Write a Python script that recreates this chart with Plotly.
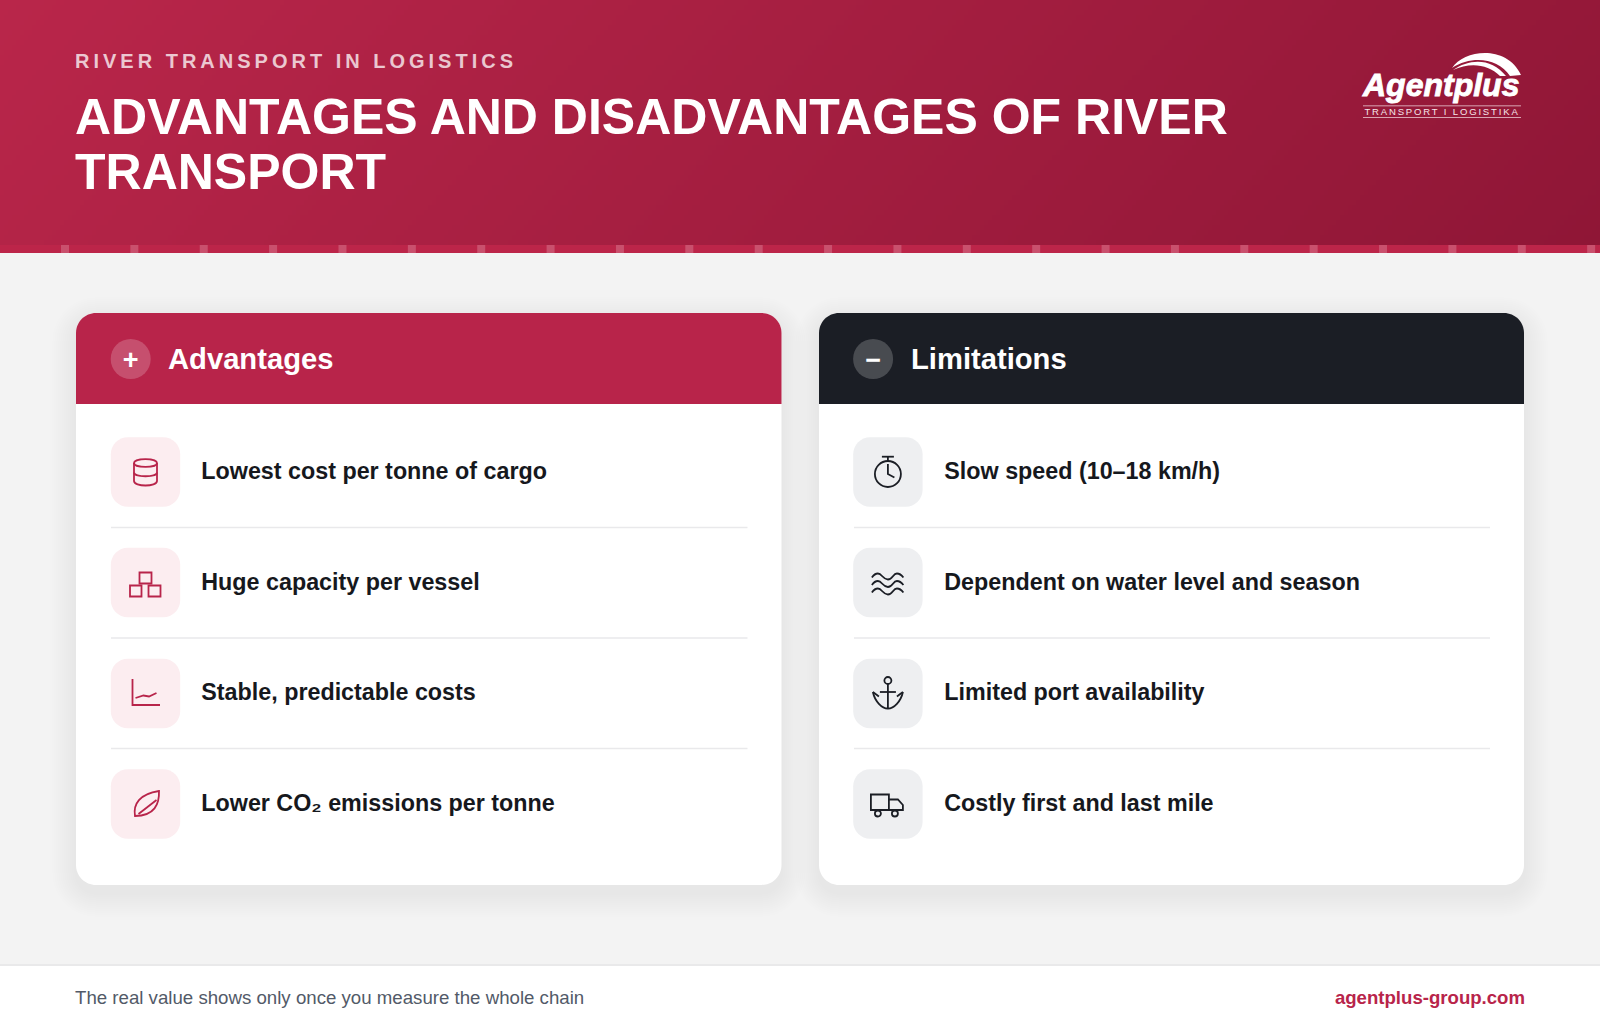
import re
import numpy as np
import plotly.graph_objects as go

W, H = 1600, 1035
FONT = "Liberation Sans"

RED = "#B8244A"
DARK = "#1B1E25"
PAGE = "#F3F3F3"

KICKER = "RIVER TRANSPORT IN LOGISTICS"
TITLE_LINES = ["ADVANTAGES AND DISADVANTAGES OF RIVER", "TRANSPORT"]
LOGO_NAME = "Agentplus"
LOGO_SUB = "TRANSPORT I LOGISTIKA"

PANEL_TITLES = ["Advantages", "Limitations"]
PANEL_SIGNS = ["+", "−"]
ADVANTAGES = [
    "Lowest cost per tonne of cargo",
    "Huge capacity per vessel",
    "Stable, predictable costs",
    "Lower CO₂ emissions per tonne",
]
LIMITATIONS = [
    "Slow speed (10–18 km/h)",
    "Dependent on water level and season",
    "Limited port availability",
    "Costly first and last mile",
]
FOOT_LEFT = "The real value shows only once you measure the whole chain"
FOOT_RIGHT = "agentplus-group.com"

# icon outlines, local px around the middle of the icon box
ICONS_LEFT = [
    ["M-11.5,-9 C-11.5,-14.3 11.5,-14.3 11.5,-9 C11.5,-3.7 -11.5,-3.7 -11.5,-9 Z",
     "M-11.5,-9 L-11.5,9 C-11.5,15 11.5,15 11.5,9 L11.5,-9",
     "M-11.5,0.5 C-11.5,5.5 11.5,5.5 11.5,0.5"],
    ["M-6,-10 L6,-10 L6,1 L-6,1 Z",
     "M-15.5,3 L-4,3 L-4,14 L-15.5,14 Z",
     "M3,3 L15,3 L15,14 L3,14 Z"],
    ["M-13,-14.5 L-13,11.5 L14.5,11.5",
     "M-10,4.5 L-2,2 L3.5,3 L11,-0.5"],
    ["M-10.5,12 C-12.5,0 -6,-10 13.5,-13 C14,0 9,12 -10.5,12 Z",
     "M-7,10 L11,-4"],
]
ICONS_RIGHT = [
    ["M0,-11 C7.2,-11 13,-5.2 13,2 C13,9.2 7.2,15 0,15 C-7.2,15 -13,9.2 -13,2 C-13,-5.2 -7.2,-11 0,-11 Z",
     "M-6,-15.3 L6,-15.3", "M0,-15.3 L0,-11",
     "M0,-8 L0,2 L6.5,5.5"],
    ["M-16,-5 C-14,-8 -12,-9 -10,-9 C-6,-9 -5,-3 0,-3 C5,-3 5,-9 9,-9 C12,-9 14,-7 15.5,-5",
     "M-16,2.5 C-14,-0.5 -12,-1.5 -10,-1.5 C-6,-1.5 -5,4.5 0,4.5 C5,4.5 5,-1.5 9,-1.5 C12,-1.5 14,0.5 15.5,2.5",
     "M-16,10 C-14,7 -12,6 -10,6 C-6,6 -5,12 0,12 C5,12 5,6 9,6 C12,6 14,8 15.5,10"],
    ["M0,-16.5 C1.9,-16.5 3.5,-14.9 3.5,-13 C3.5,-11.1 1.9,-9.5 0,-9.5 C-1.9,-9.5 -3.5,-11.1 -3.5,-13 C-3.5,-14.9 -1.9,-16.5 0,-16.5 Z",
     "M0,-9.5 L0,15", "M-8,-1.5 L8,-1.5",
     "M-15,-1.5 C-13,8 -6,15 0,15 C6,15 13,8 15,-1.5",
     "M-15,-1.5 L-9,3", "M15,-1.5 L9,3"],
    ["M-17,-9.5 L1,-9.5 L1,6 L-17,6 Z",
     "M1,-4.5 L10,-4.5 L15,1 L15,6 L1,6"],
]
TRUCK_WHEELS = [(-10, 9.5), (7, 9.5)]


def place(path, cx, cy):
    # move a local path to page pixels, numbers come as x,y pairs
    parts = re.split(r"(-?\d+\.?\d*)", path)
    out, is_x = [], True
    for p in parts:
        if re.fullmatch(r"-?\d+\.?\d*", p):
            out.append(f"{float(p) + (cx if is_x else cy):.2f}")
            is_x = not is_x
        else:
            out.append(p)
    return "".join(out)


def rounded(x0, y0, x1, y1, r, bottom=True):
    k = r * 0.448
    p = f"M{x0},{y0 + r} C{x0},{y0 + k} {x0 + k},{y0} {x0 + r},{y0} L{x1 - r},{y0} C{x1 - k},{y0} {x1},{y0 + k} {x1},{y0 + r} "
    if bottom:
        p += f"L{x1},{y1 - r} C{x1},{y1 - k} {x1 - k},{y1} {x1 - r},{y1} L{x0 + r},{y1} C{x0 + k},{y1} {x0},{y1 - k} {x0},{y1 - r} Z"
    else:
        p += f"L{x1},{y1} L{x0},{y1} Z"
    return p


fig = go.Figure()


def add_shape_path(path, fill=None, line=None, lw=0, opacity=1, layer="below"):
    fig.add_shape(type="path", path=path, xref="x", yref="y", layer=layer, opacity=opacity,
                  fillcolor=fill if fill else "rgba(0,0,0,0)",
                  line=dict(color=line if line else "rgba(0,0,0,0)", width=lw))


def add_rect(x0, y0, x1, y1, fill, opacity=1, layer="below"):
    fig.add_shape(type="rect", x0=x0, y0=y0, x1=x1, y1=y1, xref="x", yref="y", layer=layer,
                  fillcolor=fill, opacity=opacity, line_width=0)


def add_text(x, y, text, size, color, bold=False, italic=False, side="middle right"):
    fig.add_trace(go.Scatter(
        x=[x], y=[y], text=[text], mode="text", textposition=side, hoverinfo="skip", showlegend=False,
        textfont=dict(family=FONT, size=size, color=color, weight=700 if bold else 400,
                      style="italic" if italic else "normal"),
    ))


# header gradient, 135deg like the css one
hx = np.arange(0, W + 4, 4)
hy = np.arange(0, 245 + 5, 5)
cx = (hx[:-1] + hx[1:]) / 2
cy = (hy[:-1] + hy[1:]) / 2
fig.add_trace(go.Heatmap(
    x=hx, y=hy, z=(cx[None, :] + cy[:, None]) / (W + 245),
    colorscale=[[0, "#B9264A"], [1, "#8F1636"]], zmin=0, zmax=1,
    showscale=False, hoverinfo="skip",
))

add_rect(0, 245, W, 253, "#BC2549")
for i in range(23):
    add_rect(61 + i * 69.37, 245, 69 + i * 69.37, 253, "#FFFFFF", 0.2)

# footer
add_rect(0, 965, W, H, "#FFFFFF")
add_rect(0, 964, W, 966, "#E9E9EA")

# panels
PANELS = [
    dict(x0=76, x1=781.5, shift=0, head=RED, badge="rgba(255,255,255,0.2)", box="#FCEDF0", ink=RED,
         rows=ADVANTAGES, icons=ICONS_LEFT),
    dict(x0=819, x1=1524, shift=-0.6, head=DARK, badge="rgba(255,255,255,0.2)", box="#EEEFF1", ink=DARK,
         rows=LIMITATIONS, icons=ICONS_RIGHT),
]
TOP, BOTTOM, HEAD_BOTTOM = 313, 885, 404
ROW_Y = [472, 582.5, 693.5, 804]
ROW_TEXT_Y = [473, 584.5, 694.5, 805]
SEP_Y = [527.5, 638, 748.5]

for n, p in enumerate(PANELS):
    x0, x1 = p["x0"], p["x1"]
    for s in range(2, 26, 2):
        add_shape_path(rounded(x0 - s, TOP + 8 - s, x1 + s, BOTTOM + 8 + s, 20 + s),
                       fill="#000000", opacity=0.0028)
    add_shape_path(rounded(x0, TOP, x1, BOTTOM, 20), fill="#FFFFFF")
    add_shape_path(rounded(x0, TOP, x1, HEAD_BOTTOM, 20, bottom=False), fill=p["head"])

    badge_x = x0 + 54.7 + p["shift"]
    fig.add_shape(type="circle", x0=badge_x - 20, x1=badge_x + 20, y0=339, y1=379, xref="x", yref="y",
                  layer="below", fillcolor=p["badge"], line_width=0)
    add_text(badge_x, 362, PANEL_SIGNS[n], 27, "#FFFFFF", bold=True, side="middle center")
    add_text(x0 + 92, 361.5, PANEL_TITLES[n], 29.2, "#FFFFFF", bold=True)

    for y in SEP_Y:
        add_rect(x0 + 35, y - 0.8, x1 - 34, y + 0.8, "#E9E9EB")

    box_mid = x0 + 69.5 + p["shift"]
    for r, y in enumerate(ROW_Y):
        add_shape_path(rounded(box_mid - 34.7, y - 34.7, box_mid + 34.7, y + 34.7, 17), fill=p["box"])
        for part in p["icons"][r]:
            add_shape_path(place(part, box_mid, y), line=p["ink"], lw=1.8)
        add_text(x0 + 125.3, ROW_TEXT_Y[r], p["rows"][r], 23.3, "#16181D", bold=True)

# truck wheels go over the cab line
truck_mid = PANELS[1]["x0"] + 69.5 + PANELS[1]["shift"]
for wx, wy in TRUCK_WHEELS:
    fig.add_shape(type="circle", x0=truck_mid + wx - 3, x1=truck_mid + wx + 3,
                  y0=ROW_Y[3] + wy - 3, y1=ROW_Y[3] + wy + 3, xref="x", yref="y", layer="below",
                  fillcolor="#EEEFF1", line=dict(color=DARK, width=1.8))

# header text
add_text(75, 63, KICKER, 20, "rgba(255,255,255,0.75)", bold=True)
add_text(75, 121, TITLE_LINES[0], 50, "#FFFFFF", bold=True)
add_text(75, 176, TITLE_LINES[1], 50, "#FFFFFF", bold=True)

# logo
add_text(1363, 88, LOGO_NAME, 32, "#FFFFFF", bold=True, italic=True)
add_text(1442, 112.5, LOGO_SUB, 9.5, "#F6E6EA", side="middle center")
add_rect(1363, 105.5, 1521, 106.2, "#F0D4DB", layer="above")
add_rect(1363, 117, 1521, 117.7, "#F0D4DB", layer="above")
add_shape_path("M1452,68 C1464,50 1506,44 1521,75 L1510,76 C1498,58 1472,55 1452,68 Z", fill="#FFFFFF", layer="above")
add_shape_path("M1453,70 C1470,58 1492,58 1506,76 L1500,76 C1488,64 1470,62 1453,70 Z", fill="#FFFFFF", layer="above")

# footer text
add_text(75, 999.5, FOOT_LEFT, 18.66, "#525A68")
add_text(1525, 999.5, FOOT_RIGHT, 18.6, RED, bold=True, side="middle left")

fig.update_layout(
    width=W, height=H, margin=dict(l=0, r=0, t=0, b=0, pad=0),
    paper_bgcolor=PAGE, plot_bgcolor=PAGE, showlegend=False,
    xaxis=dict(range=[0, W], visible=False, fixedrange=True),
    yaxis=dict(range=[H, 0], visible=False, fixedrange=True),
)

# plotly has no letter spacing option, set it on the svg text
SPACING = {KICKER: "4px", LOGO_SUB: "1.85px"}
post = "document.body.style.margin='0';document.documentElement.style.overflow='hidden';"
post += "var sp=" + repr(SPACING) + ";"
post += "document.querySelectorAll('.textpoint text').forEach(function(t){"
post += "if(sp[t.textContent])t.style.letterSpacing=sp[t.textContent];"
post += "if(t.textContent==='" + LOGO_NAME + "'){t.style.stroke='#fff';t.style.strokeWidth='0.9px';}"
post += "});"
fig.write_html("out.html", post_script=post, config={"displayModeBar": False})
